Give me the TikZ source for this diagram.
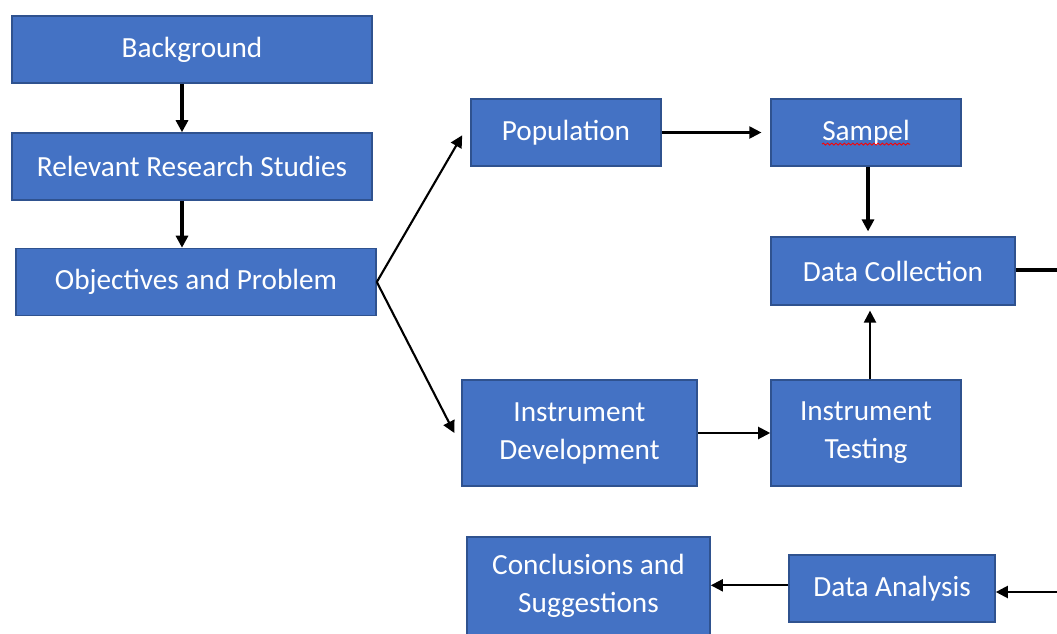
\documentclass[tikz,border=0pt]{standalone}
\usepackage{fontspec}
\setmainfont{Carlito}
\usetikzlibrary{arrows.meta, decorations.pathmorphing}
\definecolor{oblue}{HTML}{4472C4}
\definecolor{oedge}{HTML}{2F528F}
\tikzset{
  every picture/.style={font=\fontsize{20.8}{27}\selectfont},
  box/.style={draw=oedge, fill=oblue, line width=1.1pt, text=white, align=center, inner sep=0pt},
  arrow/.style={-{Triangle[length=3mm, width=3mm]}, draw=black, line width=1.5pt},
  thick arrow/.style={arrow, line width=2.2pt},
}

\begin{document}
\begin{tikzpicture}[x=0.025cm, y=-0.025cm,
  wide/.style={box, minimum width=9cm, minimum height=1.675cm},
  small/.style={box, minimum width=4.75cm, minimum height=1.675cm},
  tall/.style={box, minimum height=2.65cm}]
  \useasboundingbox (0,0) rectangle (1057,633);
  \begin{scope}
  \clip (0,0) rectangle (1057,633);
  % left column
  \node[wide] (bg) at (192,49.5) {Background};
  \node[wide] (rel) at (192,166.5) {Relevant Research Studies};
  \node[wide] (obj) at (196,282) {Objectives and Problem};
  % upper branch
  \node[small] (pop) at (566,132.5) {Population};
  \node[small] (sam) at (866,132.5) {Sampel};
  \node[box, minimum width=6.1cm, minimum height=1.7cm] (dc) at (893,271) {Data Collection};
  % lower branch
  \node[tall, minimum width=5.875cm] (dev) at (579.5,433) {Instrument\\Development};
  \node[tall, minimum width=4.75cm] (test) at (866,433) {Instrument\\Testing};
  \node[box, minimum width=5.15cm, minimum height=1.675cm] (da) at (892,588.5) {Data Analysis};
  \node[box, minimum width=6.075cm, minimum height=2.45cm] (concl) at (588.5,586) {Conclusions and\\Suggestions};
  \coordinate (out) at (1057,270);
  \coordinate (in) at (1057,592);
  % spell-check mark
  \draw[red, line width=0.6pt, decorate, decoration={snake, amplitude=0.7pt, segment length=3pt}]
    ([xshift=-1.1cm, yshift=-0.29cm]sam.center) -- ([xshift=1.1cm, yshift=-0.29cm]sam.center);
  % connectors
  \draw[thick arrow] ([xshift=-0.25cm]bg.south) -- ([xshift=-0.25cm]rel.north);
  \draw[thick arrow] ([xshift=-0.25cm]rel.south) -- ([xshift=-0.25cm]rel.south |- obj.north);
  \draw[arrow] (obj.east) -- ([xshift=-0.2cm, yshift=-0.07cm]pop.west);
  \draw[arrow] (obj.east) -- ([xshift=-0.17cm]dev.west);
  \draw[arrow] (pop.east) -- ([xshift=-0.22cm]sam.west);
  \draw[thick arrow] ([xshift=0.05cm]sam.south) -- ([xshift=0.05cm, yshift=0.12cm]sam.south |- dc.north);
  \draw[arrow] ([xshift=0.1cm]test.north) -- ([xshift=0.1cm, yshift=-0.12cm]test.north |- dc.south);
  \draw[arrow] (dev.east) -- (test.west);
  \draw[thick arrow, -] (dc.east |- out) -- (out);
  \draw[arrow] (in) -- (da.east |- in);
  \draw[arrow] ([yshift=0.08cm]da.west) -- ([yshift=0.08cm]da.west -| concl.east);
  \end{scope}
\end{tikzpicture}
\end{document}
